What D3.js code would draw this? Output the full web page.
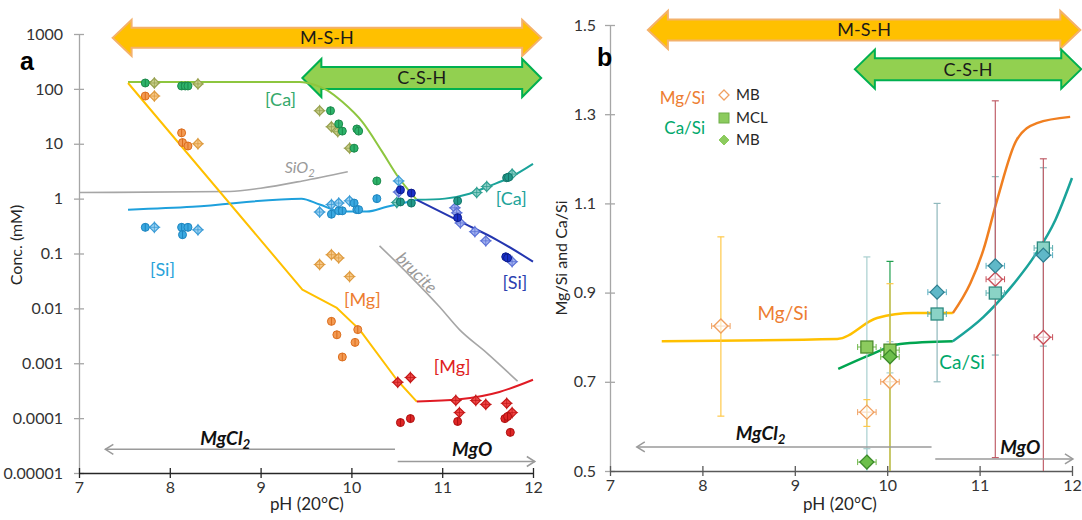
<!DOCTYPE html>
<html><head><meta charset="utf-8">
<script src="https://cdn.jsdelivr.net/npm/d3@7"></script>
<style>
body{margin:0;background:#fff}
text{font-family:Lato,"Open Sans",sans-serif}
</style>
</head><body><svg id="c" width="1082" height="520"></svg>
<script>
// ---------------- DATA ----------------
const xTicks = [7, 8, 9, 10, 11, 12];
const yTicksA = [1000, 100, 10, 1, 0.1, 0.01, 0.001, 0.0001, 0.00001];
const yTickLabelsA = ["1000","100","10","1","0.1","0.01","0.001","0.0001","0.00001"];
const yTicksB = [0.5, 0.7, 0.9, 1.1, 1.3, 1.5];
const yTickLabelsB = ["0.5","0.7","0.9","1.1","1.3","1.5"];

// panel a: modelled lines [pH, mM]
const caLineMB = [[7.54,134],[9.43,134],[9.60,118],[9.73,95],[9.90,58],[10.12,25],[10.34,7.1],[10.50,2.7],[10.72,0.95]];
const caLineMgO = [[10.72,0.95],[11.03,1.0],[11.30,1.23],[11.52,1.7],[11.74,2.4],[12.0,4.3]];
const siLineMB = [[7.54,0.63],[8.25,0.71],[9.45,1.0],[9.65,0.78],[9.90,0.58],[10.17,0.58],[10.39,0.71],[10.72,0.95]];
const siLineMgO = [[10.72,0.95],[11.2,0.38],[11.6,0.178],[12.0,0.071]];
const sio2Line = [[7.0,1.29],[8.66,1.35],[9.0,1.55],[9.46,2.1],[9.96,3.1]];
const bruciteLine = [[10.31,0.138],[10.64,0.040],[10.97,0.0107],[11.19,0.0041],[11.49,0.00155],[11.83,0.00047]];
const mgLineMB = [[7.54,128],[9.46,0.022],[9.84,0.0102],[10.09,0.0041],[10.50,0.0005],[10.72,0.0002]];
const mgLineMgO = [[10.72,0.0002],[11.19,0.00022],[11.63,0.0003],[12.0,0.0005]];

// panel a: measured points [pH, mM]
const caCircles = [[7.73,128],[8.13,113],[8.17,113],[8.20,113],[9.77,40],[9.86,23],[9.90,17],[10.06,18.6],[10.08,17],[10.03,8.3],[10.28,2.1]];
const caDiamonds = [[7.83,128],[8.31,123],[9.65,40],[9.78,20.4],[9.85,16.6],[9.98,8.3]];
const mgCircles = [[7.73,74],[8.13,15.8],[8.14,10.5],[8.20,9.1],[9.78,0.0058],[9.84,0.0033],[10.07,0.0041],[10.04,0.0024],[9.90,0.0013]];
const mgDiamonds = [[7.83,74],[8.31,10],[9.65,0.063],[9.78,0.095],[9.86,0.083],[9.98,0.038]];
const siCircles = [[7.73,0.30],[8.13,0.30],[8.20,0.30],[8.14,0.22],[9.78,0.52],[9.86,0.60],[9.90,0.60],[10.03,0.83],[10.06,0.63],[10.08,0.63],[10.28,1.0]];
const siDiamonds = [[7.83,0.30],[8.31,0.27],[9.65,0.57],[9.78,0.78],[9.86,0.83],[9.98,0.91],[10.52,2.1]];
const siMgOCircles = [[10.54,1.45],[10.66,1.26],[11.17,0.45],[11.70,0.087],[11.72,0.083]];
const siMgODiamonds = [[10.52,1.32],[11.14,0.68],[11.16,0.55],[11.20,0.36],[11.36,0.25],[11.48,0.17],[11.77,0.071]];
const caMgOCircles = [[10.54,0.87],[10.66,0.83],[11.17,0.91],[11.71,2.4],[11.73,2.45]];
const caMgODiamonds = [[10.50,0.85],[11.38,1.29],[11.49,1.66],[11.77,2.8]];
const mgMgODiamonds = [[10.51,0.00045],[10.65,0.00055],[11.15,0.00021],[11.37,0.00021],[11.48,0.000178],[11.71,0.000186],[11.19,0.000126],[11.77,0.000126]];
const mgMgOCircles = [[10.54,0.000083],[10.65,0.000098],[11.17,0.000087],[11.69,0.000098],[11.72,0.000107],[11.75,0.000055]];

// panel b: modelled ratio lines [pH, ratio]
const mgSiLineMB = [[7.56,0.791],[9.46,0.796],[9.89,0.843],[10.28,0.854],[10.71,0.854]];
const mgSiLineMgO = [[10.71,0.854],[10.90,0.921],[11.04,0.995],[11.19,1.108],[11.40,1.242],[11.62,1.280],[11.98,1.294]];
const caSiLineMB = [[9.47,0.729],[9.81,0.760],[10.14,0.785],[10.71,0.791]];
const caSiLineMgO = [[10.71,0.791],[11.04,0.845],[11.33,0.910],[11.60,0.984],[11.82,1.063],[12.0,1.157]];

// panel b: measured ratios
const mgSiMB_pH = [8.20, 9.78, 10.03, 11.17, 11.69];
const mgSiMB = [0.825, 0.632, 0.70, 0.93, 0.80];
const mgSiMB_lo = [0.623, 0.60, 0.48, 0.53, 0.40];
const mgSiMB_hi = [1.025, 0.66, 0.92, 1.33, 1.20];
const caSiMCL_pH = [9.78, 10.03, 10.54, 11.17, 11.69];
const caSiMCL = [0.778, 0.771, 0.852, 0.899, 1.0];
const caSiMCL_lo = [0.45, 0.45, null, null, null];
const caSiMCL_hi = [0.98, 0.97, null, null, null];
const caSiMB_pH = [9.78, 10.03, 10.54, 11.17, 11.69];
const caSiMB = [0.52, 0.756, 0.901, 0.96, 0.984];
const caSiMB_lo = [0.49, 0.72, 0.70, 0.76, 0.78];
const caSiMB_hi = [0.55, 0.79, 1.10, 1.16, 1.18];
const pHerr = 0.1;

// ---------------- CHART ----------------
const svg = d3.select("#c");
const xA = d3.scaleLinear([7, 12], [79, 533]);
const yA = d3.scaleLog([0.00001, 1000], [473, 34]);
const xB = d3.scaleLinear([7, 12], [610, 1072]);
const yB = d3.scaleLinear([0.5, 1.5], [471, 25]);

function styleAxis(g, color, isLeft, fs){
  g.select(".domain").attr("stroke", color).attr("stroke-width", 1.3);
  g.selectAll(".tick line").attr("stroke", color).attr("stroke-width", 1.3);
  if (isLeft) g.selectAll(".tick line").attr("x1", -5).attr("x2", 5);
  else g.selectAll(".tick line").attr("y1", -5).attr("y2", 5);
  g.selectAll(".tick text").attr("fill", "#333").style("font-size", fs + "px").style("font-family", "Lato");
}

// ---- Panel A axes
const gyA = svg.append("g").attr("transform", `translate(${xA(7)},0)`)
  .call(d3.axisLeft(yA).tickValues(yTicksA).tickFormat((d,i)=>yTickLabelsA[i]).tickSize(5).tickSizeOuter(0).tickPadding(11));
styleAxis(gyA, "#A6A6A6", true, 16);
const gxA = svg.append("g").attr("transform", `translate(0,${yA(0.00001)})`)
  .call(d3.axisBottom(xA).tickValues(xTicks).tickFormat(d3.format("d")).tickSize(5).tickSizeOuter(0).tickPadding(4));
styleAxis(gxA, "#262626", false, 16);

// ---- Panel B axes
const gyB = svg.append("g").attr("transform", `translate(${xB(7)},0)`)
  .call(d3.axisLeft(yB).tickValues(yTicksB).tickFormat((d,i)=>yTickLabelsB[i]).tickSize(5).tickSizeOuter(0).tickPadding(9));
styleAxis(gyB, "#A6A6A6", true, 16);
const gxB = svg.append("g").attr("transform", `translate(0,${yB(0.5)})`)
  .call(d3.axisBottom(xB).tickValues(xTicks).tickFormat(d3.format("d")).tickSize(5).tickSizeOuter(0).tickPadding(4));
styleAxis(gxB, "#595959", false, 16);

// axis titles
svg.append("text").attr("transform", "translate(22,245) rotate(-90)").attr("text-anchor","middle")
  .style("font-size","16px").attr("fill","#262626").text("Conc. (mM)");
svg.append("text").attr("x", 307).attr("y", 510).attr("text-anchor","middle")
  .style("font-size","17px").attr("fill","#262626").text("pH (20°C)");
svg.append("text").attr("transform", "translate(567,258) rotate(-90)").attr("text-anchor","middle")
  .style("font-size","16px").attr("fill","#262626").text("Mg/Si and Ca/Si");
svg.append("text").attr("x", 840).attr("y", 510).attr("text-anchor","middle")
  .style("font-size","17px").attr("fill","#262626").text("pH (20°C)");

// ---- block arrows
function blockArrow(x1, x2, yc, bh, hh, hl, fill, stroke, label){
  const p = `M${x1},${yc} L${x1+hl},${yc-hh} L${x1+hl},${yc-bh} L${x2-hl},${yc-bh} L${x2-hl},${yc-hh} L${x2},${yc} L${x2-hl},${yc+hh} L${x2-hl},${yc+bh} L${x1+hl},${yc+bh} L${x1+hl},${yc+hh} Z`;
  svg.append("path").attr("d", p).attr("fill", fill).attr("stroke", stroke).attr("stroke-width", 2).attr("stroke-linejoin","miter");
  svg.append("text").attr("x", (x1+x2)/2).attr("y", yc).attr("dy", "0.36em").attr("text-anchor","middle")
    .style("font-size","18px").attr("fill","#1a1a1a").text(label);
}
blockArrow(xA(7.37), xA(12.09), yA(850), 10, 18, 19, "#FFC000", "#F4B16A", "M-S-H");
blockArrow(xA(9.46), xA(12.09), yA(158), 11, 19, 19, "#92D050", "#00B050", "C-S-H");
blockArrow(xB(7.41), xB(12.09), yB(1.489), 10.5, 19, 20, "#FFC000", "#F4B16A", "M-S-H");
blockArrow(xB(9.65), xB(12.10), yB(1.401), 11, 19.5, 20, "#92D050", "#00B050", "C-S-H");

// panel labels
svg.append("text").attr("x", 20).attr("y", 70).style("font-family","'Liberation Sans',Arial").style("font-size","25px").style("font-weight","bold").text("a");
svg.append("text").attr("x", 597).attr("y", 66).style("font-family","'Liberation Sans',Arial").style("font-size","25px").style("font-weight","bold").text("b");

// ---- Panel A lines
function drawLine(data, xs, ys, color, w, curve){
  svg.append("path").datum(data)
    .attr("d", d3.line().x(d=>xs(d[0])).y(d=>ys(d[1])).curve(curve || d3.curveMonotoneX))
    .attr("fill","none").attr("stroke", color).attr("stroke-width", w).attr("stroke-linejoin","round");
}
drawLine(sio2Line, xA, yA, "#A6A6A6", 1.6);
drawLine(bruciteLine, xA, yA, "#A6A6A6", 1.6);
drawLine(caLineMB, xA, yA, "#8DC63F", 2);
drawLine(siLineMB, xA, yA, "#1EA0DC", 2);
drawLine(mgLineMB, xA, yA, "#FFC000", 2, d3.curveLinear);
drawLine(caLineMgO, xA, yA, "#1AA39A", 2);
drawLine(siLineMgO, xA, yA, "#2436B0", 2);
drawLine(mgLineMgO, xA, yA, "#E01B24", 2);

// ---- Panel A points
function diamondPath(r){ return `M0,${-r} L${r},0 L0,${r} L${-r},0 Z`; }
function circles(data, fill, stroke){
  const g = svg.append("g");
  data.forEach(d=>{
    const x = xA(d[0]), y = yA(d[1]);
    g.append("circle").attr("cx", x).attr("cy", y).attr("r", 4).attr("fill", fill).attr("stroke", stroke).attr("stroke-width", 1);
    g.append("line").attr("x1", x).attr("x2", x).attr("y1", y-4).attr("y2", y+4).attr("stroke", stroke).attr("stroke-width", 1);
  });
}
function diamonds(data, fill, stroke){
  const g = svg.append("g");
  data.forEach(d=>{
    const x = xA(d[0]), y = yA(d[1]);
    g.append("path").attr("d", diamondPath(4.8)).attr("transform", `translate(${x},${y})`).attr("fill", fill).attr("stroke", stroke).attr("stroke-width", 1.2);
    g.append("line").attr("x1", x-6).attr("x2", x+6).attr("y1", y).attr("y2", y).attr("stroke", stroke).attr("stroke-width", 0.8);
    g.append("line").attr("x1", x).attr("x2", x).attr("y1", y-6).attr("y2", y+6).attr("stroke", stroke).attr("stroke-width", 0.8);
  });
}
diamonds(caDiamonds, "#C9D08C", "#97A04E");
circles(caCircles, "#2DB36A", "#1C8A4C");
diamonds(mgDiamonds, "#F7C98A", "#DE9A3E");
circles(mgCircles, "#F39A52", "#DC6E1E");
diamonds(siDiamonds, "#9ED3F2", "#3A9BD6");
circles(siCircles, "#3AA8E0", "#1E86C0");
diamonds(siMgODiamonds, "#A4B4F0", "#5A70D6");
circles(siMgOCircles, "#1A30C8", "#0E1E8E");
diamonds(caMgODiamonds, "#8ED0C8", "#2E9E90");
circles(caMgOCircles, "#22998A", "#13766A");
diamonds(mgMgODiamonds, "#F04848", "#C41818");
circles(mgMgOCircles, "#DE2626", "#AE1010");

// ---- Panel A annotations
function label(x, y, txt, color, size, opts){
  const t = svg.append("text").attr("x", x).attr("y", y).attr("dy","0.35em").attr("text-anchor","middle")
    .style("font-size", size + "px").attr("fill", color);
  if (opts && opts.italic) t.style("font-style","italic");
  if (opts && opts.bold) t.style("font-weight","bold");
  if (opts && opts.sub){ t.text(txt); t.append("tspan").attr("dy", "0.3em").style("font-size", (size*0.7)+"px").text(opts.sub); }
  else t.text(txt);
  return t;
}
label(xA(9.22), yA(63), "[Ca]", "#35A96B", 18);
label(xA(9.43), yA(3.64), "SiO", "#9A9A9A", 16, {italic:true, sub:"2"});
label(xA(11.76), yA(1.0), "[Ca]", "#22A39A", 18);
label(xA(7.92), yA(0.0506), "[Si]", "#29A3DA", 18);
label(xA(10.72), yA(0.0446), "brucite", "#9A9A9A", 17, {italic:true})
  .attr("transform", `rotate(45,${xA(10.72)},${yA(0.0446)})`);
label(xA(11.80), yA(0.0295), "[Si]", "#2B3FB0", 18);
label(xA(10.12), yA(0.0145), "[Mg]", "#ED7D31", 18);
label(xA(11.11), yA(0.00087), "[Mg]", "#E02020", 18);

function thinArrow(x1, x2, y, dir){
  svg.append("line").attr("x1", x1).attr("x2", x2).attr("y1", y).attr("y2", y).attr("stroke", "#9A9A9A").attr("stroke-width", 1.5);
  const tip = dir < 0 ? x1 : x2, s = dir < 0 ? 1 : -1;
  svg.append("path").attr("d", `M${tip+8*s},${y-5} L${tip},${y} L${tip+8*s},${y+5}`).attr("fill","none").attr("stroke","#9A9A9A").attr("stroke-width",1.5);
}
thinArrow(xA(7.29), xA(10.48), yA(2.7e-5), -1);
thinArrow(xA(10.51), xA(12.02), yA(1.62e-5), 1);
label(xA(8.61), yA(4.3e-5), "MgCl", "#111", 19, {italic:true, bold:true, sub:"2"});
label(xA(11.33), yA(2.75e-5), "MgO", "#111", 19, {italic:true, bold:true});

// ---- Panel B lines
drawLine(mgSiLineMB, xB, yB, "#FFC000", 2.5);
drawLine(mgSiLineMgO, xB, yB, "#F07F20", 2.5);
drawLine(caSiLineMB, xB, yB, "#00A550", 2.5);
drawLine(caSiLineMgO, xB, yB, "#1AA39A", 2.5);

// ---- Panel B error bars + points
function errV(x, lo, hi, color){
  if (lo == null) return;
  const y1 = yB(Math.max(lo, 0.5)), y2 = yB(Math.min(hi, 1.5));
  svg.append("line").attr("x1", x).attr("x2", x).attr("y1", y1).attr("y2", y2).attr("stroke", color).attr("stroke-width", 1.2);
  if (lo >= 0.5) svg.append("line").attr("x1", x-3.5).attr("x2", x+3.5).attr("y1", y1).attr("y2", y1).attr("stroke", color).attr("stroke-width", 1.2);
  svg.append("line").attr("x1", x-3.5).attr("x2", x+3.5).attr("y1", y2).attr("y2", y2).attr("stroke", color).attr("stroke-width", 1.2);
}
function errH(ph, v, color){
  const x1 = xB(ph-pHerr), x2 = xB(ph+pHerr), y = yB(v);
  svg.append("line").attr("x1", x1).attr("x2", x2).attr("y1", y).attr("y2", y).attr("stroke", color).attr("stroke-width", 1);
  [x1, x2].forEach(x=>svg.append("line").attr("x1", x).attr("x2", x).attr("y1", y-3).attr("y2", y+3).attr("stroke", color).attr("stroke-width", 1));
}
// vertical bars first
caSiMCL_pH.forEach((p,i)=>errV(xB(p), caSiMCL_lo[i], caSiMCL_hi[i], p < 9.9 ? "#A8CFCF" : "#22A050"));
caSiMB_pH.forEach((p,i)=>errV(xB(p), caSiMB_lo[i], caSiMB_hi[i], p < 10.3 ? "#A8CFCF" : "#8FB8BC"));
mgSiMB_pH.forEach((p,i)=>errV(xB(p), mgSiMB_lo[i], mgSiMB_hi[i], p < 10.3 ? "#FFC94A" : "#C0606A"));

function mgSiColor(p){ return p < 10.3 ? "#F0A060" : "#C8505A"; }
mgSiMB_pH.forEach((p,i)=>{
  errH(p, mgSiMB[i], mgSiColor(p));
  svg.append("path").attr("d", diamondPath(7)).attr("transform", `translate(${xB(p)},${yB(mgSiMB[i])})`)
    .attr("fill","#fff").attr("fill-opacity",0.6).attr("stroke", mgSiColor(p)).attr("stroke-width",1.4);
});
caSiMCL_pH.forEach((p,i)=>{
  const teal = p > 10.3;
  errH(p, caSiMCL[i], teal ? "#5AAFB0" : "#6FB84A");
  svg.append("rect").attr("x", xB(p)-6).attr("y", yB(caSiMCL[i])-6).attr("width",12).attr("height",12)
    .attr("fill", teal ? "#8AD3C6" : "#8CCB5E").attr("stroke", teal ? "#2E8A80" : "#4C8C2C").attr("stroke-width",1.3);
});
caSiMB_pH.forEach((p,i)=>{
  const teal = p > 10.3;
  errH(p, caSiMB[i], teal ? "#5AAFC0" : "#6FB84A");
  svg.append("path").attr("d", diamondPath(7)).attr("transform", `translate(${xB(p)},${yB(caSiMB[i])})`)
    .attr("fill", teal ? "#5FB8C8" : "#6CBF4A").attr("stroke", teal ? "#2E7F90" : "#3C8A2A").attr("stroke-width",1.3);
});

// ---- Panel B legend
svg.append("text").attr("x", 705).attr("y", 98).attr("dy","0.35em").attr("text-anchor","end").style("font-size","17px").attr("fill","#ED7D31").text("Mg/Si");
svg.append("text").attr("x", 705).attr("y", 128).attr("dy","0.35em").attr("text-anchor","end").style("font-size","17px").attr("fill","#00A86B").text("Ca/Si");
svg.append("path").attr("d", diamondPath(5)).attr("transform","translate(724,95)").attr("fill","#fff").attr("stroke","#F0A060").attr("stroke-width",1.3);
svg.append("rect").attr("x", 719).attr("y", 113).attr("width",10).attr("height",10).attr("fill","#8CCB5E").attr("stroke","#6FAE48");
svg.append("path").attr("d", diamondPath(5)).attr("transform","translate(724,140)").attr("fill","#8CCB5E").attr("stroke","#8CCB5E");
[["MB",95],["MCL",118],["MB",140]].forEach(d=>svg.append("text").attr("x",736).attr("y",d[1]).attr("dy","0.35em").style("font-size","15px").attr("fill","#262626").text(d[0]));

// ---- Panel B annotations
label(xB(8.87), yB(0.854), "Mg/Si", "#ED7D31", 19);
label(xB(10.81), yB(0.744), "Ca/Si", "#00A86B", 19);
thinArrow(xB(7.29), xB(10.48), yB(0.554), -1);
thinArrow(xB(10.52), xB(12.01), yB(0.527), 1);
label(xB(8.63), yB(0.585), "MgCl", "#111", 19, {italic:true, bold:true, sub:"2"});
label(xB(11.44), yB(0.552), "MgO", "#111", 19, {italic:true, bold:true});
</script>
</body></html>
